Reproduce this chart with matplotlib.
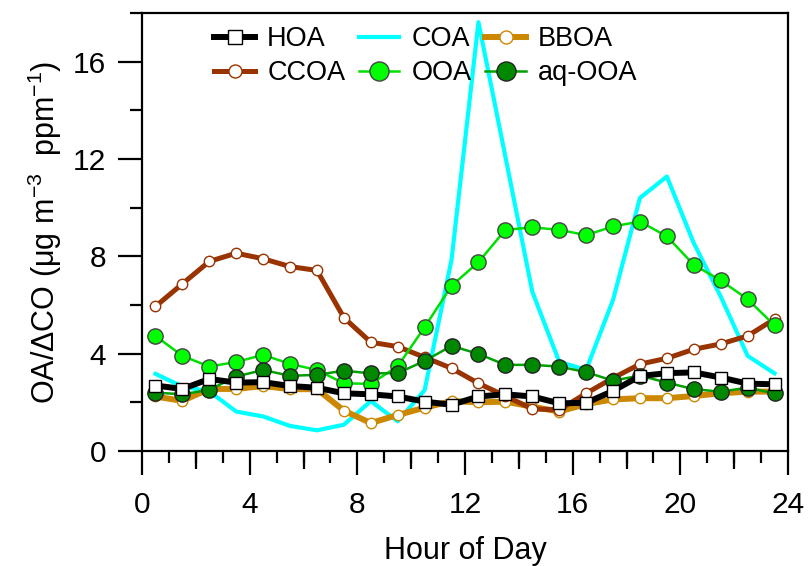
import matplotlib
matplotlib.use('Agg')
import matplotlib.pyplot as plt
from matplotlib.ticker import MultipleLocator
import numpy as np

plt.rcParams['font.family'] = ['Liberation Sans', 'DejaVu Sans']
plt.rcParams['mathtext.fontset'] = 'custom'
plt.rcParams['mathtext.rm'] = 'Liberation Sans'
plt.rcParams['mathtext.it'] = 'Liberation Sans:italic'

hours = np.arange(24) + 0.5

hoa = [2.69, 2.55, 2.96, 2.81, 2.83, 2.67, 2.60, 2.37, 2.33, 2.24, 2.03, 1.90,
       2.24, 2.33, 2.24, 1.96, 1.98, 2.47, 3.08, 3.20, 3.23, 3.02, 2.77, 2.74]
coa = [3.17, 2.65, 2.45, 1.62, 1.42, 1.03, 0.85, 1.08, 2.05, 1.22, 2.50, 7.86,
       17.62, 12.1, 6.55, 3.67, 3.33, 6.21, 10.4, 11.28, 8.54, 6.35, 3.91, 3.19]
bboa = [2.24, 2.06, 2.55, 2.55, 2.67, 2.54, 2.54, 1.66, 1.15, 1.48, 1.78, 2.05,
        2.00, 2.03, 1.82, 1.62, 1.93, 2.12, 2.17, 2.17, 2.26, 2.37, 2.44, 2.44]
ccoa = [5.94, 6.87, 7.79, 8.13, 7.90, 7.58, 7.42, 5.48, 4.47, 4.29, 3.85, 3.40,
        2.78, 2.26, 1.73, 1.69, 2.37, 3.00, 3.57, 3.81, 4.18, 4.40, 4.73, 5.42]
ooa = [4.73, 3.91, 3.47, 3.66, 3.95, 3.58, 3.33, 2.78, 2.76, 3.48, 5.09, 6.79,
       7.76, 9.09, 9.19, 9.09, 8.87, 9.23, 9.43, 8.82, 7.65, 7.01, 6.24, 5.16]
aq_ooa = [2.40, 2.33, 2.51, 3.06, 3.33, 3.09, 3.13, 3.30, 3.19, 3.20, 3.70, 4.32,
          3.99, 3.54, 3.54, 3.47, 3.24, 2.89, 3.10, 2.81, 2.54, 2.44, 2.60, 2.37]
medium_ticks = [2, 6, 10, 14, 18, 22]

fig = plt.figure(figsize=(8.09, 5.66), dpi=100)
ax = fig.add_axes([142/809, 1-451/566, 646/809, 438/566])

l_coa, = ax.plot(hours, coa, color='#00ffff', lw=3, label='COA', zorder=2)
l_bboa, = ax.plot(hours, bboa, color='#cc8800', lw=4.3, marker='o', ms=7.5,
                  mfc='white', mec='#cc8800', mew=1, label='BBOA', zorder=3)
l_ccoa, = ax.plot(hours, ccoa, color='#993300', lw=3.6, marker='o', ms=7.5,
                  mfc='white', mec='#993300', mew=1, label='CCOA', zorder=4)
l_ooa, = ax.plot(hours, ooa, color='#00e000', lw=1.8, marker='o', ms=11,
                 mfc='#00ff00', mec='#444444', mew=1, label='OOA', zorder=5)
l_aq, = ax.plot(hours, aq_ooa, color='#00a000', lw=1.8, marker='o', ms=11,
                mfc='#008800', mec='#222222', mew=1, label='aq-OOA', zorder=6)
l_hoa, = ax.plot(hours, hoa, color='black', lw=4.3, marker='s', ms=8,
                 mfc='white', mec='black', mew=1, label='HOA', zorder=7)

ax.set_xlim(0, 24)
ax.set_ylim(0, 18)
ax.xaxis.set_major_locator(MultipleLocator(4))
ax.xaxis.set_minor_locator(MultipleLocator(1))
ax.yaxis.set_major_locator(MultipleLocator(4))
ax.yaxis.set_minor_locator(MultipleLocator(2))
ax.tick_params(which='major', direction='out', length=17, width=1.6,
               labelsize=21.5, top=False, right=False)
ax.tick_params(which='minor', direction='out', length=8.5, width=1.6,
               top=False, right=False)
ax.tick_params(axis='x', which='major', pad=12)
ax.tick_params(axis='y', which='major', pad=9)
# medium ticks at even hours on the x axis
for h in medium_ticks:
    ax.plot([h, h], [0, -0.75], color='black', lw=1.6, clip_on=False, zorder=10,
            solid_capstyle='butt')
for s in ax.spines.values():
    s.set_linewidth(1.6)

ax.set_xlabel('Hour of Day', fontsize=22, labelpad=12)
ax.set_ylabel('OA/ΔCO (μg m$^{-3}$  ppm$^{-1}$)', fontsize=22, labelpad=6)

ax.legend([l_hoa, l_ccoa, l_coa, l_ooa, l_bboa, l_aq],
          ['HOA', 'CCOA', 'COA', 'OOA', 'BBOA', 'aq-OOA'],
          ncol=3, frameon=False, fontsize=19.5, loc='upper left',
          bbox_to_anchor=(0.112, 0.97), borderaxespad=0, borderpad=0,
          handlelength=1.5, handletextpad=0.45, columnspacing=0.5,
          labelspacing=0.3, markerscale=1.25)

fig.savefig('out.png', dpi=100)
